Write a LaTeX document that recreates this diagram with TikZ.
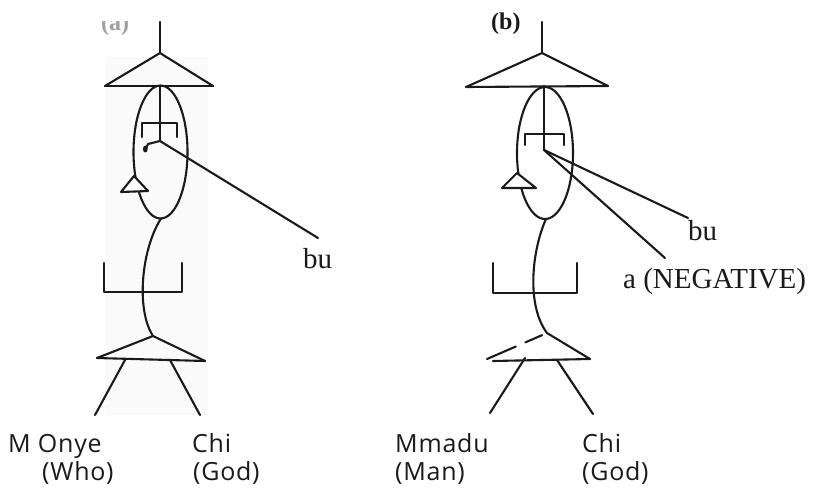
\documentclass[tikz,border=0pt]{standalone}
\usepackage{fontspec}
\usetikzlibrary{calc}
\setmainfont{Liberation Serif}
\newfontfamily\labfont[LetterSpace=3]{Open Sans}
\definecolor{ink}{HTML}{1A1A1A}
\begin{document}
\begin{tikzpicture}[x=1pt,y=-1pt,
  ln/.style={line width=2.1pt, draw=ink, line cap=round, line join=round},
  lab/.style={font=\labfont\fontsize{25}{25}\selectfont, text=ink, inner sep=0pt, anchor=base west},
  gl/.style={font=\fontsize{29}{29}\selectfont, text=ink, inner sep=0pt, anchor=base west},
  hd/.style={font=\bfseries\fontsize{24}{24}\selectfont, inner sep=0pt, anchor=base west}]
\useasboundingbox (0,0) rectangle (829,493);
\fill[white] (0,0) rectangle (829,493);
% faint background of (a)
\fill[gray!4] (106,57) rectangle (208,415);

% ================= (a) =================
\coordinate (aTop) at (160,22);
\coordinate (aApex) at (160,53);
\coordinate (aBL) at (105,86);
\coordinate (aBR) at (213,86);
\coordinate (aStemTop) at (160,86);
\coordinate (aHub) at (160,141);
\coordinate (aEc) at (160.5,152);
\coordinate (aEbot) at (161,218.5);
\coordinate (aBuEnd) at (318,238);
\coordinate (aH1) at (148,144);
\coordinate (aH2) at (145,151);
\coordinate (aLApex) at (153,336);
\coordinate (aLL) at (97,358);
\coordinate (aLR) at (205,361);
\coordinate (aLegL1) at (125,360);
\coordinate (aLegL2) at (95,415);
\coordinate (aLegR1) at (170,360);
\coordinate (aLegR2) at (200,415);

\draw[ln] (aTop) -- (aApex);
\draw[ln] (aBL) -- (aApex) -- (aBR);
\draw[ln] (aBL) -- (aBR);
\draw[ln] (aEc) ellipse [x radius=27pt, y radius=66.5pt];
\draw[ln] (aStemTop) -- (aHub);
\draw[ln] (142,137) -- (142,123) -- (177,123) -- (177,137);
\draw[ln] (aHub) -- (aH1) -- (aH2);
\fill[ink] (145.3,149) ellipse [x radius=2.4pt, y radius=3.5pt];
\draw[ln] (aHub) -- (aBuEnd);
\filldraw[ln, fill=white] (134,176) -- (121,192) -- (148,191) -- cycle;
\draw[ln] (aEbot) .. controls (141,250) and (136,310) .. (aLApex);
\draw[ln] (104,263) -- (104,292) -- (182,292) -- (182,263);
\draw[ln] (aLL) -- (aLApex) -- (aLR);
\draw[ln] (aLL) -- (aLR);
\draw[ln] (aLegL1) -- (aLegL2);
\draw[ln] (aLegR1) -- (aLegR2);

\node[gl] (aBu) at (303,268) {bu};
\node[lab] (aMonye) at (8,452) {M Onye};
\node[lab] (aWho) at (42,480) {(Who)};
\node[lab] (aChi) at (192,452) {Chi};
\node[lab] (aGod) at (193,480) {(God)};

\begin{scope}
  \clip (95,21) rectangle (140,36);
  \node[hd, text=gray!75] (aHead) at (101,30) {(a)};
\end{scope}

% ================= (b) =================
\coordinate (bTop) at (542,22);
\coordinate (bApex) at (542,53);
\coordinate (bBL) at (466,87);
\coordinate (bBR) at (608,86);
\coordinate (bStemTop) at (544,86);
\coordinate (bHub) at (544,150);
\coordinate (bEc) at (545,153);
\coordinate (bEbot) at (546,219);
\coordinate (bBuEnd) at (688,218);
\coordinate (bNegEnd) at (665,258);
\coordinate (bLApex) at (547,333);
\coordinate (bLL) at (487,359);
\coordinate (bLR) at (590,359);
\coordinate (bBaseL) at (493,361);
\coordinate (bLegL1) at (525,358);
\coordinate (bLegL2) at (490,413);
\coordinate (bLegR1) at (557,360);
\coordinate (bLegR2) at (593,414);

\draw[ln] (bTop) -- (bApex);
\draw[ln] (bBL) -- (bApex) -- (bBR);
\draw[ln] (bBL) -- (bBR);
\draw[ln] (bEc) ellipse [x radius=28pt, y radius=66pt];
\draw[ln] (bStemTop) -- (bHub);
\draw[ln] (525,145) -- (525,134) -- (564,134) -- (564,145);
\draw[ln] (bHub) -- (bBuEnd);
\draw[ln] (bHub) -- (bNegEnd);
\filldraw[ln, fill=white] (517,173) -- (502,188) -- (536,188) -- cycle;
\draw[ln] (bEbot) .. controls (532,250) and (526,305) .. (bLApex);
\draw[ln] (493,263) -- (493,293) -- (577,293) -- (577,263);
\draw[ln] (bLApex) -- (bLR);
\draw[ln] (bBaseL) -- (bLR);
\draw[ln] ($(bLApex)!0.08!(bLL)$) -- ($(bLApex)!0.36!(bLL)$);
\draw[ln] ($(bLApex)!0.52!(bLL)$) -- (bLL);
\draw[ln] (bLegL1) -- (bLegL2);
\draw[ln] (bLegR1) -- (bLegR2);

\node[hd, text=ink] (bHead) at (491,29) {(b)};
\node[gl] (bBu) at (688,240) {bu};
\node[gl] (bNeg) at (623,288) {a (NEGATIVE)};
\node[lab] (bMmadu) at (395,452) {Mmadu};
\node[lab] (bMan) at (395,480) {(Man)};
\node[lab] (bChi) at (582,452) {Chi};
\node[lab] (bGod) at (582,480) {(God)};
\end{tikzpicture}
\end{document}
